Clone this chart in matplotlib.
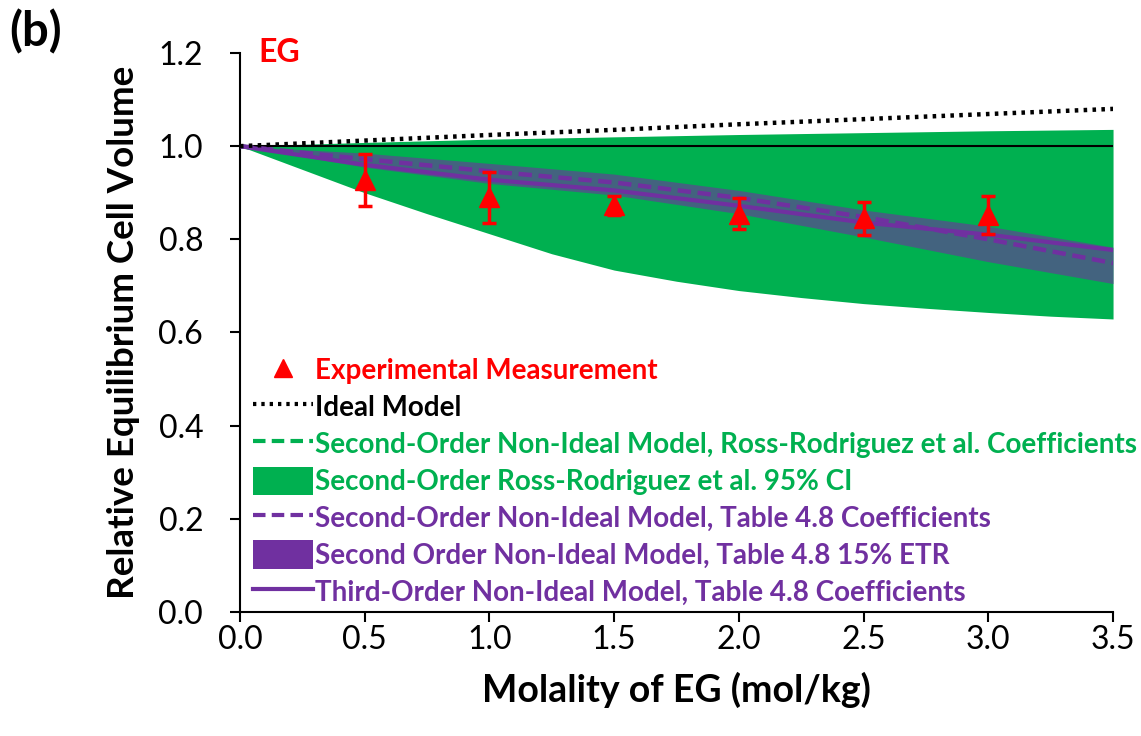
import matplotlib
matplotlib.use("Agg")
import numpy as np
import matplotlib.pyplot as plt
from matplotlib.patches import Patch
from matplotlib.lines import Line2D

# ---------------- data ----------------
x_half = [0.0, 0.5, 1.0, 1.5, 2.0, 2.5, 3.0, 3.5]
x_quarter = [0.0, 0.25, 0.5, 0.75, 1.0, 1.25, 1.5, 1.75, 2.0, 2.25, 2.5, 2.75, 3.0, 3.25, 3.5]

ideal = [1.0, 1.012, 1.024, 1.035, 1.047, 1.058, 1.069, 1.080]

rr_model = [1.0, 0.962, 0.920, 0.882, 0.858, 0.843, 0.835, 0.832]
rr_ci_upper = [1.0, 1.008, 1.015, 1.020, 1.025, 1.029, 1.033, 1.036]
rr_ci_lower = [1.0, 0.950, 0.900, 0.855, 0.812, 0.769, 0.734, 0.710, 0.690,
               0.675, 0.662, 0.652, 0.643, 0.635, 0.629]

t48_second = [1.0, 0.972, 0.946, 0.922, 0.889, 0.848, 0.800, 0.749]
t48_etr_upper = [1.0, 0.985, 0.963, 0.940, 0.905, 0.863, 0.828, 0.783]
t48_etr_lower = [1.0, 0.955, 0.920, 0.895, 0.855, 0.805, 0.752, 0.705]
t48_third = [1.0, 0.960, 0.928, 0.905, 0.872, 0.836, 0.810, 0.777]

exp_x = [0.5, 1.0, 1.5, 2.0, 2.5, 3.0]
exp_y = [0.927, 0.890, 0.873, 0.855, 0.845, 0.852]
exp_err = [0.056, 0.055, 0.021, 0.033, 0.036, 0.040]

xticks = [0.0, 0.5, 1.0, 1.5, 2.0, 2.5, 3.0, 3.5]
yticks = [0.0, 0.2, 0.4, 0.6, 0.8, 1.0, 1.2]

legend_labels = [
    "Experimental Measurement",
    "Ideal Model",
    "Second-Order Non-Ideal Model, Ross-Rodriguez et al. Coefficients",
    "Second-Order Ross-Rodriguez et al. 95% CI",
    "Second-Order Non-Ideal Model, Table 4.8 Coefficients",
    "Second Order Non-Ideal Model, Table 4.8 15% ETR",
    "Third-Order Non-Ideal Model, Table 4.8 Coefficients",
]

GREEN = "#00B050"
PURPLE = "#7030A0"
RED = "#FF0000"

plt.rcParams["font.family"] = ["Lato", "DejaVu Sans"]

fig = plt.figure(figsize=(11.41, 7.36), dpi=100)
ax = fig.add_axes([0.2103, 0.1685, 0.7652, 0.7595])

# green CI band
rr_upper_q = np.interp(x_quarter, x_half, rr_ci_upper)
ax.fill_between(x_quarter, rr_ci_lower, rr_upper_q, color=GREEN, linewidth=0, zorder=1)
ax.plot(x_half, rr_model, color=GREEN, lw=3, ls=(0, (3, 1.5)), zorder=1.5)

# reference line at 1.0
ax.plot([0, 3.5], [1.0, 1.0], color="black", lw=1.5, zorder=2)

# purple band
ax.fill_between(x_half, t48_etr_lower, t48_etr_upper, color=PURPLE, alpha=0.6,
                linewidth=0, zorder=3)
ax.plot(x_half, t48_second, color=PURPLE, lw=3.2, ls=(0, (3, 1.5)), zorder=4)
ax.plot(x_half, t48_third, color=PURPLE, lw=3, zorder=4)

# ideal
ax.plot(x_half, ideal, color="black", lw=3.2, ls=(0, (0.8, 1.2)), zorder=5)

# experimental
ax.errorbar(exp_x, exp_y, yerr=exp_err, fmt="^", color=RED, ms=14,
            ecolor=RED, elinewidth=2.5, capsize=5, capthick=2.5, zorder=6)

ax.set_xlim(0, 3.5)
ax.set_ylim(0, 1.2)
ax.set_xticks(xticks)
ax.set_xticklabels([f"{v:.1f}" for v in xticks])
ax.set_yticks(yticks)
ax.set_yticklabels([f"{v:.1f}" for v in yticks])
for s in ["top", "right"]:
    ax.spines[s].set_visible(False)
for s in ["left", "bottom"]:
    ax.spines[s].set_linewidth(1.5)
ax.tick_params(direction="out", length=7.5, width=1.5, labelsize=23)
ax.tick_params(axis="x", pad=2)
ax.tick_params(axis="y", pad=19)

ax.set_xlabel("Molality of EG (mol/kg)", fontsize=27, fontweight="bold", labelpad=12)
ax.set_ylabel("Relative Equilibrium Cell Volume", fontsize=26.5, fontweight="bold", labelpad=13)

fig.text(0.008, 0.957, "(b)", fontsize=34, fontweight="bold", va="center", ha="left")
ax.text(0.021, 1.0, "EG", transform=ax.transAxes, fontsize=23, fontweight="bold",
        color=RED, va="center", ha="left")

handles = [
    Line2D([], [], marker="^", color=RED, ls="none", ms=13),
    Line2D([], [], color="black", lw=3, ls=(0, (0.8, 1.2))),
    Line2D([], [], color=GREEN, lw=3, ls=(0, (3, 1.5))),
    Patch(facecolor=GREEN, edgecolor="none"),
    Line2D([], [], color=PURPLE, lw=3, ls=(0, (3, 1.5))),
    Patch(facecolor=PURPLE, edgecolor="none"),
    Line2D([], [], color=PURPLE, lw=3),
]
leg = ax.legend(handles, legend_labels, loc="lower left",
                bbox_to_anchor=(13 / 873, 6 / 559),
                frameon=False, prop={"size": 20, "weight": "bold"},
                handlelength=2.15, handleheight=1.2, handletextpad=0.1,
                labelspacing=0.30, borderaxespad=0.0, borderpad=0.0)
colors = [RED, "black", GREEN, GREEN, PURPLE, PURPLE, PURPLE]
for t, c in zip(leg.get_texts(), colors):
    t.set_color(c)

fig.savefig("out.png", dpi=100)
